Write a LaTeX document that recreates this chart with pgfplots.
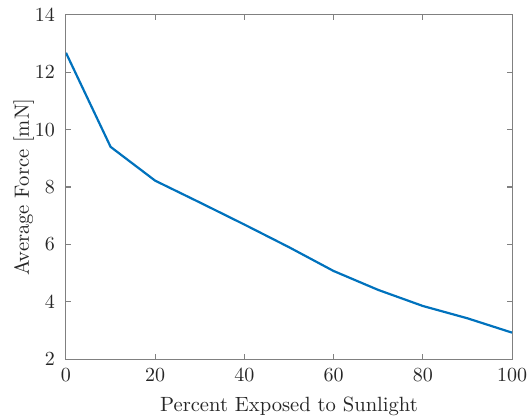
\documentclass[border=0pt]{standalone}
\usepackage{pgfplots}
\pgfplotsset{compat=1.18}
\definecolor{mblue}{rgb}{0,0.447,0.741}
\definecolor{axgray}{rgb}{0.5,0.5,0.5}
\definecolor{txtgray}{rgb}{0.15,0.15,0.15}
\begin{document}
\begin{tikzpicture}
\begin{axis}[
  scale only axis,
  width=223pt, height=172pt,
  xmin=0, xmax=100, ymin=2, ymax=14,
  xtick={0,20,40,60,80,100},
  ytick={2,4,6,8,10,12,14},
  tick align=inside,
  tick pos=both,
  major tick length=2.5pt,
  axis line style={axgray, line width=0.5pt},
  every tick/.style={axgray, line width=0.5pt},
  tick label style={font=\fontsize{10.3}{12}\selectfont, text=txtgray},
  xticklabel style={yshift=-1.2pt},
  yticklabel style={xshift=-2pt},
  label style={font=\fontsize{10.3}{12}\selectfont, text=txtgray},
  xlabel={Percent Exposed to Sunlight},
  ylabel={Average Force [mN]},
  xlabel style={at={(axis description cs:0.5,-0.1526)}, anchor=base},
  ylabel style={at={(axis description cs:-0.0834,0.5)}, anchor=base},
]
\addplot[mblue, line width=1.1pt] coordinates {
(0,12.68) (10,9.40) (20,8.22) (30,7.46) (40,6.69) (50,5.90)
(60,5.07) (70,4.41) (80,3.85) (90,3.42) (100,2.92)
};
\end{axis}
\path (current axis.south west) ++(-33pt,-29pt) coordinate (bl);
\path (current axis.north east) ++(8.5pt,7.5pt) coordinate (tr);
\pgfresetboundingbox
\path[use as bounding box] (bl) rectangle (tr);
\end{tikzpicture}
\end{document}
